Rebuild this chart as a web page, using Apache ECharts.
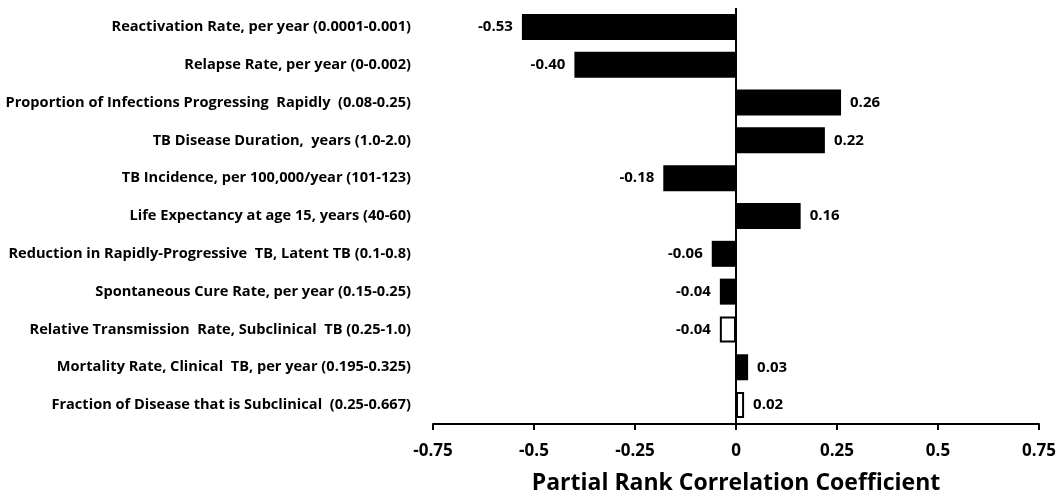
<!DOCTYPE html>
<html>
<head>
<meta charset="utf-8">
<script src="https://cdn.jsdelivr.net/npm/echarts@6/dist/echarts.min.js"></script>
<style>
  html, body { margin: 0; padding: 0; background: #fff; }
  #chart { width: 1059px; height: 491px; }
</style>
</head>
<body>
<div id="chart"></div>
<script>
// Model parameters (with their sampled ranges), listed top to bottom
const categories = [
  'Reactivation Rate, per year (0.0001-0.001)',
  'Relapse Rate, per year (0-0.002)',
  'Proportion of Infections Progressing  Rapidly  (0.08-0.25)',
  'TB Disease Duration,  years (1.0-2.0)',
  'TB Incidence, per 100,000/year (101-123)',
  'Life Expectancy at age 15, years (40-60)',
  'Reduction in Rapidly-Progressive  TB, Latent TB (0.1-0.8)',
  'Spontaneous Cure Rate, per year (0.15-0.25)',
  'Relative Transmission  Rate, Subclinical  TB (0.25-1.0)',
  'Mortality Rate, Clinical  TB, per year (0.195-0.325)',
  'Fraction of Disease that is Subclinical  (0.25-0.667)'
];
// Partial rank correlation coefficients
const prcc = [-0.53, -0.40, 0.26, 0.22, -0.18, 0.16, -0.06, -0.04, -0.04, 0.03, 0.02];
// Parameters drawn as hollow bars
const hollow = [false, false, false, false, false, false, false, false, true, false, true];
const xTicks = [-0.75, -0.5, -0.25, 0, 0.25, 0.5, 0.75];

const FONT = '"Open Sans"';

const data = prcc.map((v, i) => ({
  value: v,
  itemStyle: hollow[i]
    ? { color: '#ffffff', borderColor: '#000', borderWidth: 2 }
    : { color: '#000000', borderColor: '#000', borderWidth: 0 },
  label: { position: v < 0 ? 'left' : 'right' }
}));

const chart = echarts.init(document.getElementById('chart'));
chart.setOption({
  animation: false,
  backgroundColor: '#fff',
  grid: {
    left: 433, right: 20, top: 8, bottom: 67,
    containLabel: false,
    outerBoundsMode: 'none'
  },
  xAxis: {
    type: 'value',
    min: -0.75,
    max: 0.75,
    interval: 0.25,
    splitLine: { show: false },
    axisLine: { show: true, onZero: false, lineStyle: { color: '#000', width: 2 } },
    axisTick: { show: true, length: 6, lineStyle: { color: '#000', width: 2 } },
    axisLabel: {
      color: '#000', fontFamily: FONT, fontWeight: 'bold', fontSize: 17, margin: 19,
      formatter: v => {
        const t = xTicks.find(x => Math.abs(x - v) < 1e-9);
        return t === undefined ? '' : String(t);
      }
    },
    name: 'Partial Rank Correlation Coefficient',
    nameLocation: 'middle',
    nameGap: 48,
    nameTextStyle: { color: '#000', fontFamily: FONT, fontWeight: 'bold', fontSize: 23 }
  },
  yAxis: {
    type: 'category',
    data: categories,
    inverse: true,
    axisLine: { show: false },
    axisTick: { show: false },
    axisLabel: {
      color: '#000', fontFamily: FONT, fontWeight: 'bold', fontSize: 14.6, margin: 22
    }
  },
  series: [{
    type: 'bar',
    data: data,
    barWidth: 26,
    label: {
      show: true,
      color: '#000',
      fontFamily: FONT,
      fontWeight: 'bold',
      fontSize: 15,
      distance: 9,
      formatter: p => p.value.toFixed(2)
    },
    markLine: {
      silent: true,
      symbol: 'none',
      label: { show: false },
      lineStyle: { color: '#000', width: 2, type: 'solid' },
      data: [{ xAxis: 0 }]
    }
  }]
});
</script>
</body>
</html>
